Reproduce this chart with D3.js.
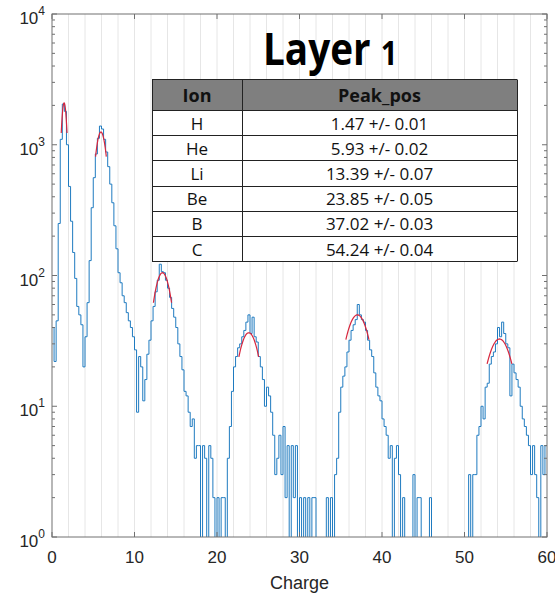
<!DOCTYPE html>
<html>
<head>
<meta charset="utf-8">
<script src="https://cdn.jsdelivr.net/npm/d3@7"></script>
<style>
  html, body { margin: 0; padding: 0; background: #fff; }
  svg { display: block; }
</style>
</head>
<body>
<svg id="chart" width="555" height="593"></svg>
<script>
// Charge spectrum histogram (bin width 0.25, counts per bin starting at charge 0)
const binStart = 0;
const binWidth = 0.25;
const counts = [
  40, 22, 45, 250,        // 0
  1100, 2050, 1800, 1000, // 1
  480, 260, 150, 95,      // 2
  58, 50, 42, 20,         // 3
  34, 62, 130, 330,       // 4
  560, 850, 1120, 1390,   // 5
  1320, 1100, 880, 680,   // 6
  500, 360, 240, 160,     // 7
  105, 88, 70, 62,        // 8
  52, 45, 40, 34,         // 9
  27, 9, 24, 20,          // 10
  11, 16, 25, 32,         // 11
  45, 58, 75, 92,         // 12
  122, 107, 105, 92,      // 13
  80, 68, 56, 48,         // 14
  40, 30, 24, 19,         // 15
  13, 12, 9, 7,           // 16
  8, 4, 5, 5,             // 17
  0, 5, 4, 0,             // 18
  5, 4, 2, 0,             // 19
  2, 0, 2, 2,             // 20
  0, 4, 7, 13,            // 21
  20, 24, 28, 30,         // 22
  34, 38, 44, 50,         // 23
  36, 48, 34, 31,         // 24
  24, 20, 16, 10,         // 25
  14, 12, 9, 6,           // 26
  3, 4, 6, 3,             // 27
  7, 2, 5, 0,             // 28
  5, 2, 5, 0,             // 29
  2, 0, 2, 0,             // 30
  2, 0, 2, 2,             // 31
  0, 0, 0, 0,             // 32
  0, 2, 0, 2,             // 33
  0, 3, 4, 9,             // 34
  14, 17, 20, 26,         // 35
  32, 38, 42, 46,         // 36
  60, 50, 46, 44,         // 37
  38, 32, 27, 24,         // 38
  18, 14, 12, 11,         // 39
  8, 7, 6, 4,             // 40
  5, 0, 4, 5,             // 41
  3, 0, 2, 0,             // 42
  0, 0, 0, 3,             // 43
  0, 2, 2, 0,             // 44
  0, 0, 0, 2,             // 45
  0, 0, 0, 0,             // 46
  0, 0, 0, 0,             // 47
  0, 0, 0, 0,             // 48
  0, 0, 0, 0,             // 49
  0, 0, 3, 0,             // 50
  3, 3, 6, 7,             // 51
  10, 8, 14, 15,          // 52
  21, 24, 26, 30,         // 53
  40, 34, 44, 36,         // 54
  30, 28, 12, 21,         // 55
  18, 16, 14, 10,         // 56
  8, 7, 6, 5,             // 57
  3, 5, 3, 2,             // 58
  0, 5, 3, 5              // 59
];

// Fitted peaks (positions as listed in the table)
const ions = ["H", "He", "Li", "Be", "B", "C"];
const peakPos = [1.47, 5.93, 13.39, 23.85, 37.02, 54.24];
const peakErr = [0.01, 0.02, 0.07, 0.05, 0.03, 0.04];
const fitAmp = [2090, 1250, 105, 36.5, 50, 32.7];
const fitSigma = [0.34, 0.7, 1.07, 1.3, 1.5, 1.6];
const fitHalfRange = [0.35, 0.65, 1.1, 1.2, 1.4, 1.5];

// Axis ticks
const xTicks = [0, 10, 20, 30, 40, 50, 60];
const xGrid = d3.range(2, 60, 2);
const yDecades = [0, 1, 2, 3, 4];

(function draw() {
  const svg = d3.select("#chart");
  const pLeft = 52, pRight = 547, pTop = 14, pBottom = 537;

  const x = d3.scaleLinear().domain([0, 60]).range([pLeft, pRight]);
  const y = d3.scaleLog().domain([1, 1e4]).range([pBottom, pTop]);

  const axisColor = "#707070";
  const textColor = "#262626";
  const sansAxis = "'Liberation Sans', Arial, sans-serif";
  const sansText = "'Open Sans', 'Noto Sans', sans-serif";

  // vertical grid lines
  svg.append("g").selectAll("line").data(xGrid).join("line")
    .attr("x1", d => x(d)).attr("x2", d => x(d))
    .attr("y1", pTop).attr("y2", pBottom)
    .attr("stroke", "#e6e6e6").attr("stroke-width", 1);

  // clip to the plotting box
  svg.append("clipPath").attr("id", "plotClip")
    .append("rect").attr("x", pLeft).attr("y", pTop)
    .attr("width", pRight - pLeft).attr("height", pBottom - pTop);

  const plot = svg.append("g").attr("clip-path", "url(#plotClip)");

  // histogram as stairs
  const stairPts = counts.map((c, i) => [binStart + i * binWidth, c]);
  stairPts.push([binStart + counts.length * binWidth, counts[counts.length - 1]]);
  const yv = v => (v >= 1 ? y(v) : pBottom + 4);
  const stairLine = d3.line()
    .x(d => x(d[0]))
    .y(d => yv(d[1]))
    .curve(d3.curveStepAfter);
  plot.append("path")
    .datum(stairPts)
    .attr("d", stairLine)
    .attr("fill", "none")
    .attr("stroke", "#1f7bc0")
    .attr("stroke-width", 1);

  // gaussian fit curves around each peak
  const fitLine = d3.line().x(d => x(d[0])).y(d => y(d[1]));
  ions.forEach((ion, k) => {
    const mu = peakPos[k], s = fitSigma[k], a = fitAmp[k], h = fitHalfRange[k];
    const pts = d3.range(0, 41).map(j => {
      const xv = mu - h + (2 * h * j) / 40;
      return [xv, a * Math.exp(-((xv - mu) ** 2) / (2 * s * s))];
    });
    plot.append("path")
      .datum(pts)
      .attr("d", fitLine)
      .attr("fill", "none")
      .attr("stroke", "#d7263d")
      .attr("stroke-width", 1.2);
  });

  // box
  svg.append("rect")
    .attr("x", pLeft).attr("y", pTop)
    .attr("width", pRight - pLeft).attr("height", pBottom - pTop)
    .attr("fill", "none").attr("stroke", axisColor).attr("stroke-width", 1);

  // x ticks (inside, bottom and top)
  const tg = svg.append("g").attr("stroke", axisColor).attr("stroke-width", 1);
  xTicks.forEach(t => {
    tg.append("line").attr("x1", x(t)).attr("x2", x(t)).attr("y1", pBottom).attr("y2", pBottom - 5);
    tg.append("line").attr("x1", x(t)).attr("x2", x(t)).attr("y1", pTop).attr("y2", pTop + 5);
  });

  // y ticks: majors at decades, minors at 2..9
  yDecades.forEach(e => {
    const v = Math.pow(10, e);
    tg.append("line").attr("x1", pLeft).attr("x2", pLeft + 5).attr("y1", y(v)).attr("y2", y(v));
    tg.append("line").attr("x1", pRight).attr("x2", pRight - 5).attr("y1", y(v)).attr("y2", y(v));
    if (e < 4) {
      for (let m = 2; m <= 9; m++) {
        const mv = m * v;
        tg.append("line").attr("x1", pLeft).attr("x2", pLeft + 3).attr("y1", y(mv)).attr("y2", y(mv));
        tg.append("line").attr("x1", pRight).attr("x2", pRight - 3).attr("y1", y(mv)).attr("y2", y(mv));
      }
    }
  });

  // x tick labels
  svg.append("g").selectAll("text").data(xTicks).join("text")
    .attr("x", d => x(d)).attr("y", 563)
    .attr("text-anchor", "middle")
    .attr("font-family", sansAxis)
    .attr("font-size", 17).attr("fill", textColor)
    .text(d => d);

  // y tick labels with superscript exponents
  const yl = svg.append("g");
  yDecades.forEach(e => {
    const t = yl.append("text")
      .attr("x", 45).attr("y", y(Math.pow(10, e)) + 10)
      .attr("text-anchor", "end")
      .attr("font-family", sansAxis)
      .attr("font-size", 17).attr("fill", textColor);
    t.append("tspan").text("10");
    t.append("tspan").attr("dy", -9).attr("font-size", 12).text(e);
  });

  // x axis title
  svg.append("text")
    .attr("x", (pLeft + pRight) / 2).attr("y", 589)
    .attr("text-anchor", "middle")
    .attr("font-family", sansAxis)
    .attr("font-size", 18).attr("fill", textColor)
    .text("Charge");

  // title
  const title = svg.append("text")
    .attr("transform", "translate(263,65) scale(0.86,1)")
    .attr("font-family", sansText)
    .attr("font-weight", "bold")
    .attr("font-size", 45).attr("fill", "#000");
  title.append("tspan").text("Layer ");
  title.append("tspan").attr("font-size", 34).text("1");

  // results table
  const tLeft = 152, tMid = 242, tRight = 517, tTop = 79, headH = 31, rowH = 25.2;
  const table = svg.append("g");
  table.append("rect")
    .attr("x", tLeft).attr("y", tTop).attr("width", tRight - tLeft).attr("height", headH)
    .attr("fill", "#7f7f7f");
  table.append("rect")
    .attr("x", tLeft).attr("y", tTop + headH).attr("width", tRight - tLeft).attr("height", rowH * ions.length)
    .attr("fill", "#fff");
  const tableBottom = tTop + headH + rowH * ions.length;
  const rowLines = [tTop, tTop + headH].concat(ions.map((d, i) => tTop + headH + rowH * (i + 1)));
  table.selectAll("line.h").data(rowLines).join("line")
    .attr("x1", tLeft).attr("x2", tRight)
    .attr("y1", d => Math.round(d) + 0.5).attr("y2", d => Math.round(d) + 0.5)
    .attr("stroke", "#222").attr("stroke-width", 1);
  [tLeft, tMid, tRight].forEach(cx => {
    table.append("line")
      .attr("x1", cx + 0.5).attr("x2", cx + 0.5)
      .attr("y1", tTop + 0.5).attr("y2", Math.round(tableBottom) + 0.5)
      .attr("stroke", "#222").attr("stroke-width", 1);
  });
  const hdr = [["Ion", (tLeft + tMid) / 2], ["Peak_pos", (tMid + tRight) / 2]];
  hdr.forEach(([txt, cx]) => {
    table.append("text")
      .attr("x", cx).attr("y", tTop + 23)
      .attr("text-anchor", "middle")
      .attr("font-family", sansText)
      .attr("font-weight", "bold").attr("font-size", 18).attr("fill", "#111")
      .text(txt);
  });
  ions.forEach((ion, i) => {
    const by = tTop + headH + rowH * i + 19.5;
    table.append("text")
      .attr("x", (tLeft + tMid) / 2).attr("y", by)
      .attr("text-anchor", "middle")
      .attr("font-family", sansText)
      .attr("font-size", 17).attr("fill", "#111")
      .text(ion);
    table.append("text")
      .attr("x", (tMid + tRight) / 2).attr("y", by)
      .attr("text-anchor", "middle")
      .attr("font-family", sansText)
      .attr("font-size", 17).attr("fill", "#111")
      .text(peakPos[i].toFixed(2) + " +/- " + peakErr[i].toFixed(2));
  });
})();
</script>
</body>
</html>
